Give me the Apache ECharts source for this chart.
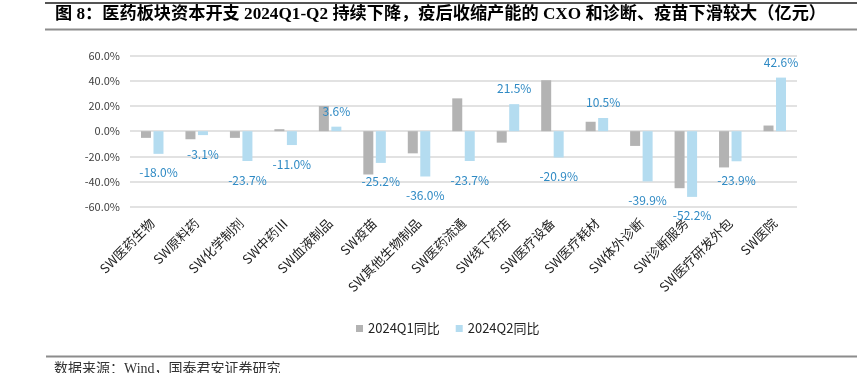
<!DOCTYPE html>
<html>
<head>
<meta charset="utf-8">
<script src="https://cdn.jsdelivr.net/npm/echarts@6/dist/echarts.min.js"></script>
<style>
html,body{margin:0;padding:0;background:#fff;}
#c{width:857px;height:373px;}
</style>
</head>
<body>
<div id="c"></div>
<script>
const categories = ['SW医药生物','SW原料药','SW化学制剂','SW中药Ⅲ','SW血液制品','SW疫苗','SW其他生物制品','SW医药流通','SW线下药店','SW医疗设备','SW医疗耗材','SW体外诊断','SW诊断服务','SW医疗研发外包','SW医院'];
const q1Values = [-5.3, -6.4, -5.3, 1.6, 20.0, -34.4, -17.6, 26.1, -9.1, 40.5, 7.5, -11.7, -45.3, -28.8, 4.5];
const q2Values = [-18.0, -3.1, -23.7, -11.0, 3.6, -25.2, -36.0, -23.7, 21.5, -20.9, 10.5, -39.9, -52.2, -23.9, 42.6];
const seriesNames = ['2024Q1同比', '2024Q2同比'];
const titleText = '图 8：医药板块资本开支 2024Q1-Q2 持续下降，疫后收缩产能的 CXO 和诊断、疫苗下滑较大（亿元）';
const sourceText = '数据来源：Wind，国泰君安证券研究';

const chart = echarts.init(document.getElementById('c'), null, {renderer: 'canvas'});
const sans = '"Noto Sans CJK SC", "Microsoft YaHei", sans-serif';
chart.setOption({
  animation: false,
  backgroundColor: '#fff',
  textStyle: {fontFamily: sans},
  graphic: [
    {type: 'line', shape: {x1: 45, y1: 3, x2: 857, y2: 3}, style: {stroke: '#555', lineWidth: 2}},
    {type: 'line', shape: {x1: 45, y1: 29.5, x2: 857, y2: 29.5}, style: {stroke: '#8c8c8c', lineWidth: 2}},
    {type: 'text', left: 55, top: 6, style: {text: titleText, fontSize: 17.2, fontWeight: 'bold', fill: '#000', fontFamily: '"Liberation Serif", "Noto Sans CJK SC", serif'}},
    {type: 'line', shape: {x1: 46, y1: 356.5, x2: 857, y2: 356.5}, style: {stroke: '#8c8c8c', lineWidth: 2}},
    {type: 'text', left: 54, top: 362, style: {text: sourceText, fontSize: 14, fill: '#333', fontFamily: '"Liberation Serif", "Noto Sans CJK SC", serif'}}
  ],
  legend: {
    data: seriesNames,
    left: 351, top: 317,
    icon: 'rect', itemWidth: 7, itemHeight: 7, itemGap: 16,
    textStyle: {fontSize: 13, color: '#222', fontFamily: sans}
  },
  grid: {left: 130, right: 60, top: 55.7, bottom: 166.3, containLabel: false},
  xAxis: {
    type: 'category',
    data: categories,
    axisLine: {show: false},
    axisTick: {show: false},
    axisLabel: {interval: 0, rotate: 45, fontSize: 13, color: '#222', margin: 14, fontFamily: sans}
  },
  yAxis: {
    type: 'value', min: -60, max: 60, interval: 20,
    axisLine: {show: false}, axisTick: {show: false},
    axisLabel: {formatter: v => v.toFixed(1) + '%', fontSize: 11, color: '#404040', margin: 10, fontFamily: sans},
    splitLine: {lineStyle: {color: '#d9d9d9', width: 1.5}}
  },
  series: [
    {name: seriesNames[0], type: 'bar', data: q1Values, barWidth: 10, barGap: '25%',
     itemStyle: {color: '#b3b3b3'}},
    {name: seriesNames[1], type: 'bar', barWidth: 10,
     data: q2Values.map(v => ({value: v, label: {distance: v < 0 ? 13 : 9.5}})),
     itemStyle: {color: '#b4dcf0'},
     label: {show: true, position: 'outside', formatter: p => p.value.toFixed(1) + '%', fontSize: 12, color: '#2f8ac4', fontFamily: sans}}
  ]
});
</script>
</body>
</html>
